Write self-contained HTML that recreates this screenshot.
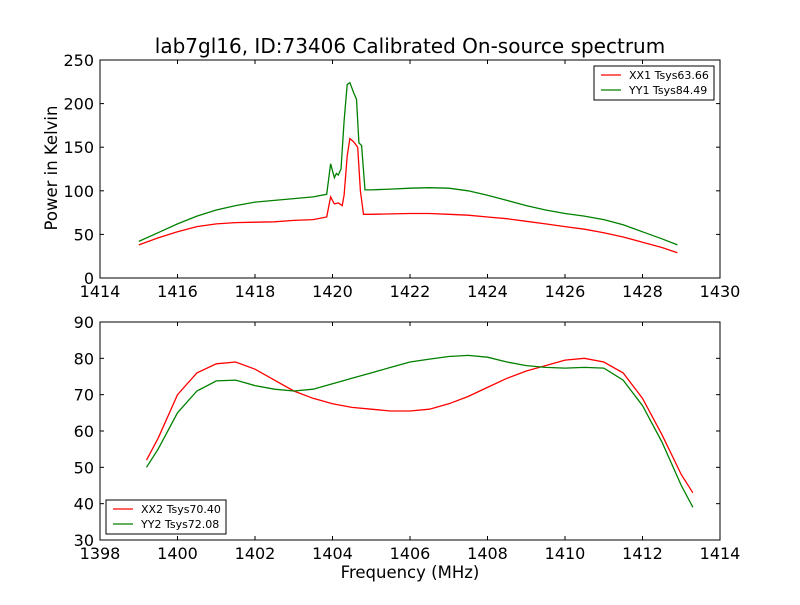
<!DOCTYPE html>
<html><head><meta charset="utf-8"><style>
body{margin:0;background:#fff}
svg text{font-family:"DejaVu Sans","Liberation Sans",sans-serif;fill:#000}
</style></head><body>
<svg id="c" width="800" height="600" xmlns="http://www.w3.org/2000/svg">
<rect width="800" height="600" fill="#fff"/>
<text x="410" y="53" font-size="20" text-anchor="middle">lab7gl16, ID:73406 Calibrated On-source spectrum</text>
<text transform="translate(57,168) rotate(-90)" font-size="16.5" text-anchor="middle">Power in Kelvin</text>
<text x="410" y="578" font-size="16.5" text-anchor="middle">Frequency (MHz)</text>
</svg>
<script>
const topXX1x=[1415,1415.5,1416,1416.5,1417,1417.5,1418,1418.5,1419,1419.5,1419.85,1419.95,1420.05,1420.15,1420.25,1420.3,1420.38,1420.45,1420.55,1420.65,1420.72,1420.8,1421,1421.5,1422,1422.5,1423,1423.5,1424,1424.5,1425,1425.5,1426,1426.5,1427,1427.5,1428,1428.5,1428.9];
const topXX1y=[38,46,53,59,62,63.5,64,64.5,66,67,70,93,85,86,83,95,140,160,156,150,100,73,73,73.5,74,74,73,72,70,68,65,62,59,56,52,47,41,35,29];
const topYY1x=[1415,1415.5,1416,1416.5,1417,1417.5,1418,1418.5,1419,1419.5,1419.85,1419.95,1420.05,1420.1,1420.15,1420.22,1420.3,1420.38,1420.45,1420.55,1420.62,1420.68,1420.75,1420.84,1421,1421.5,1422,1422.5,1423,1423.5,1424,1424.5,1425,1425.5,1426,1426.5,1427,1427.5,1428,1428.5,1428.9];
const topYY1y=[42,52,62,71,78,83,87,89,91,93,96,131,115,120,118,125,180,222,224,212,205,155,152,101,101,102,103,103.5,103,100,95,89,83,78,74,71,67,61,53,45,38];
const botXX2x=[1399.2,1399.5,1400,1400.5,1401,1401.5,1402,1402.5,1403,1403.5,1404,1404.5,1405,1405.5,1406,1406.5,1407,1407.5,1408,1408.5,1409,1409.5,1410,1410.5,1411,1411.5,1412,1412.5,1413,1413.3];
const botXX2y=[52,58,70,76,78.5,79,77,74,71,69,67.5,66.5,66,65.5,65.5,66,67.5,69.5,72,74.5,76.5,78,79.5,80,79,76,69,59,48,43];
const botYY2x=[1399.2,1399.5,1400,1400.5,1401,1401.5,1402,1402.5,1403,1403.5,1404,1404.5,1405,1405.5,1406,1406.5,1407,1407.5,1408,1408.5,1409,1409.5,1410,1410.5,1411,1411.5,1412,1412.5,1413,1413.3];
const botYY2y=[50,55,65,71,73.8,74,72.5,71.5,71,71.5,73,74.5,76,77.5,79,79.8,80.5,80.8,80.3,79,78,77.5,77.3,77.5,77.3,74,67,57,45,39];
const topXTicks=[1414,1416,1418,1420,1422,1424,1426,1428,1430];
const topYTicks=[0,50,100,150,200,250];
const botXTicks=[1398,1400,1402,1404,1406,1408,1410,1412,1414];
const botYTicks=[30,40,50,60,70,80,90];

const NS="http://www.w3.org/2000/svg",svg=document.getElementById('c');
function mk(t,a,p){const e=document.createElementNS(NS,t);for(const k in a)e.setAttribute(k,a[k]);(p||svg).appendChild(e);return e;}
function axes(name,x0,x1,y0,y1,xmin,xmax,ymin,ymax,xt,yt){
  const g=mk('g',{});
  
  
  const sx=v=>x0+(v-xmin)/(xmax-xmin)*(x1-x0), sy=v=>y1-(v-ymin)/(ymax-ymin)*(y1-y0);
  xt.forEach(v=>{const x=sx(v);
    mk('line',{x1:x,x2:x,y1:y1,y2:y1-4,stroke:'#000'},g);mk('line',{x1:x,x2:x,y1:y0,y2:y0+4,stroke:'#000'},g);
    const t=mk('text',{x:x,y:y1+19,'font-size':16,'text-anchor':'middle'},g);t.textContent=v;
    
    });
  yt.forEach(v=>{const y=sy(v);
    mk('line',{x1:x0,x2:x0+4,y1:y,y2:y,stroke:'#000'},g);mk('line',{x1:x1,x2:x1-4,y1:y,y2:y,stroke:'#000'},g);
    const t=mk('text',{x:x0-6,y:y+6,'font-size':16,'text-anchor':'end'},g);t.textContent=v;
    
    });
  return {g,sx,sy,frame:()=>mk('rect',{x:x0,y:y0,width:x1-x0,height:y1-y0,fill:'none',stroke:'#000'},g)};
}
function line(ax,xs,ys,col,name){
  const p=mk('polyline',{points:xs.map((x,i)=>ax.sx(x).toFixed(1)+','+ax.sy(ys[i]).toFixed(1)).join(' '),fill:'none',stroke:col,'stroke-width':1.3},ax.g);
  
  
}
function legend(ax,x,y,items){
  const g=mk('g',{},ax.g);
  
  
  mk('rect',{x:x,y:y,width:120,height:34,fill:'#fff',stroke:'#000'},g);
  items.forEach((it,i)=>{const yy=y+9+i*15;
    mk('line',{x1:x+7,x2:x+27,y1:yy,y2:yy,stroke:it[1],'stroke-width':1.3},g);
    const t=mk('text',{x:x+35,y:yy+4,'font-size':11},g);t.textContent=it[0];
    
    });
}
const a1=axes('top-axes',100,720,60,278,1414,1430,0,250,topXTicks,topYTicks);
line(a1,topXX1x,topXX1y,'#ff0000','xx1-line');
line(a1,topYY1x,topYY1y,'#008000','yy1-line');
a1.frame();
legend(a1,594,66,[['XX1 Tsys63.66','#ff0000'],['YY1 Tsys84.49','#008000']]);
const a2=axes('bottom-axes',100,720,322,540,1398,1414,30,90,botXTicks,botYTicks);
line(a2,botXX2x,botXX2y,'#ff0000','xx2-line');
line(a2,botYY2x,botYY2y,'#008000','yy2-line');
a2.frame();
legend(a2,106,500,[['XX2 Tsys70.40','#ff0000'],['YY2 Tsys72.08','#008000']]);
</script>
</body></html>
